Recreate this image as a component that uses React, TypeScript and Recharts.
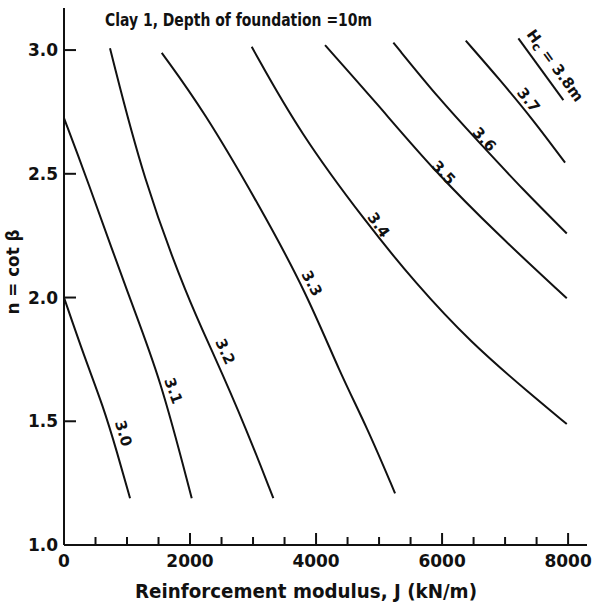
import { LineChart, Line, XAxis, YAxis, ReferenceDot } from 'recharts';

// contour lines of critical height Hc (J in kN/m, n = cot beta)
const h30J = [0, 322, 624, 841, 1048];
const h30N = [2.0, 1.761, 1.559, 1.376, 1.189];
const h31J = [0, 333, 1048, 1524, 2027];
const h31N = [2.725, 2.502, 1.99, 1.68, 1.189];
const h32J = [730, 1259, 1973, 2370, 2900, 3322];
const h32N = [3.007, 2.475, 1.99, 1.775, 1.465, 1.189];
const h33J = [1551, 2211, 3111, 3852, 4381, 4805, 5254];
const h33N = [2.989, 2.758, 2.367, 2.017, 1.694, 1.478, 1.209];
const h34J = [2979, 3746, 4805, 5571, 6444, 7449, 7979];
const h34N = [3.013, 2.663, 2.3, 2.06, 1.82, 1.6, 1.489];
const h35J = [4143, 4963, 5862, 6921, 7979];
const h35N = [3.02, 2.785, 2.515, 2.246, 1.997];
const h36J = [5227, 5968, 6603, 7290, 7979];
const h36N = [3.03, 2.798, 2.623, 2.434, 2.259];
const h37J = [6376, 6921, 7449, 7952];
const h37N = [3.038, 2.879, 2.717, 2.545];
const h38J = [7211, 7925];
const h38N = [3.047, 2.798];

// contour labels (text centres)
const labelText = ['3.0', '3.1', '3.2', '3.3', '3.4', '3.5', '3.6', '3.7', 'Hc'];
const labelJ = [941, 1735, 2556, 3931, 4989, 6021, 6667, 7370, 7794];
const labelN = [1.451, 1.623, 1.781, 2.057, 2.293, 2.504, 2.639, 2.798, 2.937];

const xTicks = [0, 500, 1000, 1500, 2000, 2500, 3000, 3500, 4000, 4500, 5000, 5500, 6000, 6500, 7000, 7500, 8000];
const xLabels = [0, 2000, 4000, 6000, 8000];
const yTicks = [1.0, 1.5, 2.0, 2.5, 3.0];

const toRows = (js: number[], ns: number[]) => js.map((J, i) => ({ J, n: ns[i] }));
const series = [
  toRows(h30J, h30N),
  toRows(h31J, h31N),
  toRows(h32J, h32N),
  toRows(h33J, h33N),
  toRows(h34J, h34N),
  toRows(h35J, h35N),
  toRows(h36J, h36N),
  toRows(h37J, h37N),
  toRows(h38J, h38N),
];

const INK = '#111';
const FONT = '"DejaVu Sans", sans-serif';
const labelAngle = [73, 70, 66, 62, 55, 47, 47, 52, 54];

const XTick = (props: any) => {
  const { x, y, payload } = props;
  const major = xLabels.includes(payload.value);
  return (
    <g>
      <line x1={x} x2={x} y1={y} y2={y - (major ? 12 : 8)} stroke={INK} strokeWidth={2} />
      {major && (
        <text x={x} y={y + 22} textAnchor="middle" fontSize={17} fontWeight="bold" fontFamily={FONT} fill={INK}>
          {payload.value}
        </text>
      )}
    </g>
  );
};

const YTick = (props: any) => {
  const { x, y, payload } = props;
  const v = payload.value as number;
  return (
    <g>
      {v > 1 && <line x1={x} x2={x + 12} y1={y} y2={y} stroke={INK} strokeWidth={2} />}
      <text x={x - 6} y={y + 6} textAnchor="end" fontSize={17} fontWeight="bold" fontFamily={FONT} fill={INK}>
        {v.toFixed(1)}
      </text>
    </g>
  );
};

const makeLabel = (i: number) => (p: any) => {
  const { cx, cy } = p;
  const a = labelAngle[i];
  const t = labelText[i];
  return (
    <text
      x={cx}
      y={cy}
      transform={`rotate(${a} ${cx} ${cy})`}
      textAnchor="middle"
      dominantBaseline="central"
      fontSize={15}
      fontWeight="bold"
      fontFamily={FONT}
      fill={INK}
    >
      {t === 'Hc' ? (
        <>
          H<tspan dy={4} fontSize={12}>c</tspan>
          <tspan dy={-4}> = 3.8m</tspan>
        </>
      ) : (
        t
      )}
    </text>
  );
};

export default function App() {
  return (
    <div style={{ width: 594, height: 604, position: 'relative', background: '#fff' }}>
      <style>{'body{margin:0}'}</style>
      <LineChart width={594} height={604} margin={{ top: 8, right: 7, left: 0, bottom: 29 }}>
        <XAxis
          type="number"
          dataKey="J"
          domain={[0, 8300]}
          ticks={xTicks}
          interval={0}
          height={30}
          tickSize={0}
          tickMargin={0}
          tick={<XTick />}
          axisLine={{ stroke: INK, strokeWidth: 2 }}
          tickLine={false}
        />
        <YAxis
          type="number"
          dataKey="n"
          domain={[1, 3.17]}
          ticks={yTicks}
          interval={0}
          width={64}
          tickSize={0}
          tickMargin={0}
          tick={<YTick />}
          axisLine={{ stroke: INK, strokeWidth: 2 }}
          tickLine={false}
        />
        {series.map((d, i) => (
          <Line
            key={i}
            data={d}
            dataKey="n"
            type="basis"
            stroke={INK}
            strokeWidth={2}
            dot={false}
            activeDot={false}
            isAnimationActive={false}
          />
        ))}
        {labelText.map((t, i) => (
          <ReferenceDot key={t} x={labelJ[i]} y={labelN[i]} r={1} shape={makeLabel(i)} />
        ))}
      </LineChart>
      <svg
        width={594}
        height={604}
        style={{ position: 'absolute', left: 0, top: 0, pointerEvents: 'none' }}
        fontFamily={FONT}
        fill={INK}
        fontWeight="bold"
      >
        <text x={105} y={26} fontSize={18} textLength={267} lengthAdjust="spacingAndGlyphs">
          Clay 1, Depth of foundation =10m
        </text>
        <text x={135} y={598} fontSize={19} textLength={342} lengthAdjust="spacingAndGlyphs">
          Reinforcement modulus, J (kN/m)
        </text>
        <text
          x={0}
          y={0}
          fontSize={17}
          textAnchor="middle"
          textLength={85}
          lengthAdjust="spacingAndGlyphs"
          transform="translate(19 272) rotate(-90)"
        >
          n = cot β
        </text>
      </svg>
    </div>
  );
}
